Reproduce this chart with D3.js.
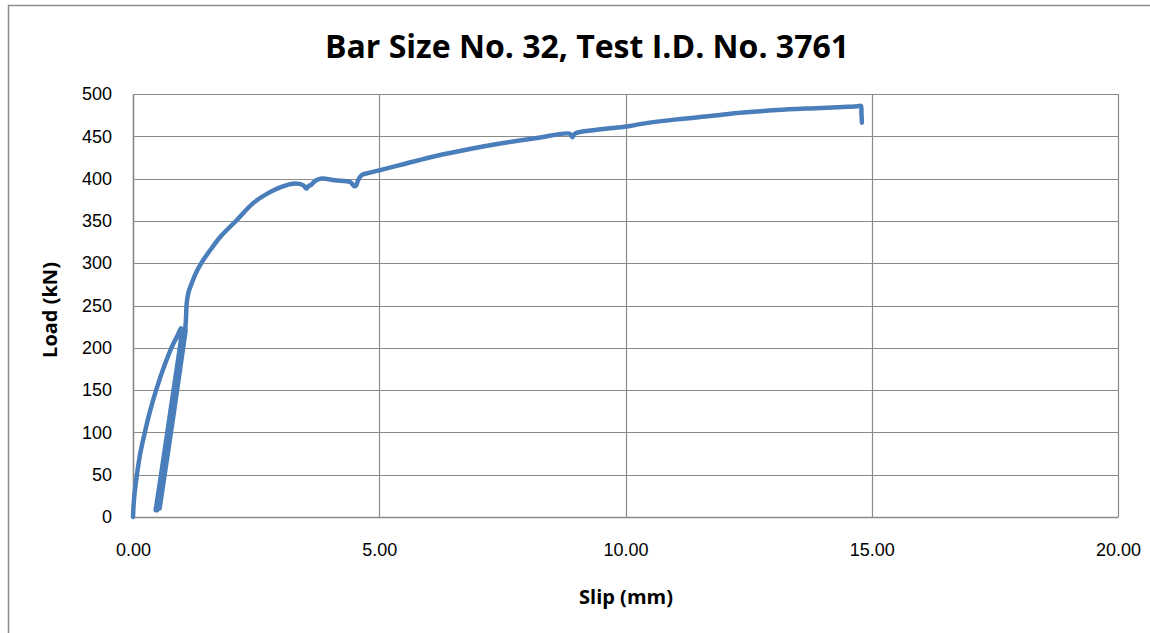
<!DOCTYPE html>
<html>
<head>
<meta charset="utf-8">
<title>Bar Size No. 32, Test I.D. No. 3761</title>
<style>
  body { margin: 0; background: #fff; }
  svg { display: block; font-family: "Open Sans", sans-serif; }
</style>
</head>
<body>
<div id="chart"></div>
<script src="https://d3js.org/d3.v7.min.js"></script>
<script>
// data (slip in mm, load in kN)
var slip = [0, 0.01, 0.03, 0.08, 0.15, 0.24, 0.35, 0.47, 0.62, 0.78, 0.90, 0.98,
  0.46, 1.01, 0.50, 1.04, 0.54, 1.07, 0.49, 1.06,
  1.09, 1.12, 1.19, 1.30, 1.43, 1.60, 1.77, 2.11, 2.44, 2.78, 3.00, 3.25,
  3.46, 3.52, 3.56, 3.60, 3.66, 3.72, 3.83, 4.10, 4.41, 4.49, 4.53, 4.57, 4.64,
  4.81, 4.98, 5.49, 6.17, 6.84, 7.52, 8.20, 8.87, 8.92, 8.97, 9.08, 9.55,
  10.02, 10.36, 11.04, 11.72, 12.39, 13.07, 13.75, 14.42, 14.72, 14.78, 14.79, 14.80];
var load = [0, 12, 27, 50, 76, 100, 126, 150, 176, 200, 214, 223,
  8, 222, 9, 222, 10, 221, 8, 222,
  252, 264, 276, 291, 304, 318, 331, 351, 371, 384, 390, 394,
  392, 388, 391, 392, 395, 398, 400, 398, 396, 391, 392, 398, 404,
  407, 409.5, 417, 427, 435, 442, 448, 453, 449, 453, 455, 458.5,
  461.5, 465, 470, 474, 478, 481, 483, 484.6, 485.5, 486, 478, 466];

var xTicks = [0, 5, 10, 15, 20];
var yTicks = [0, 50, 100, 150, 200, 250, 300, 350, 400, 450, 500];

var W = 1150, H = 633;
var m = { left: 133, top: 94, right: 32, bottom: 116 };
var iw = W - m.left - m.right, ih = H - m.top - m.bottom;

var svg = d3.select("#chart").append("svg")
  .attr("width", W).attr("height", H);

// outer chart border
svg.append("rect")
  .attr("x", 8.5).attr("y", 5.5)
  .attr("width", W + 20).attr("height", H + 20)
  .attr("fill", "none").attr("stroke", "#8c8c8c").attr("stroke-width", 1.5);

var x = d3.scaleLinear().domain([0, 20]).range([0, iw]);
var y = d3.scaleLinear().domain([0, 500]).range([ih, 0]);

var g = svg.append("g").attr("transform", "translate(" + m.left + "," + m.top + ")");

// gridlines
g.selectAll(".hg").data(yTicks).enter().append("line")
  .attr("x1", 0).attr("x2", iw)
  .attr("y1", function(d) { return Math.round(y(d)) + 0.5; })
  .attr("y2", function(d) { return Math.round(y(d)) + 0.5; })
  .attr("stroke", "#8a8a8a").attr("stroke-width", 1.2);
g.selectAll(".vg").data(xTicks).enter().append("line")
  .attr("y1", 0).attr("y2", ih)
  .attr("x1", function(d) { return Math.round(x(d)) + 0.5; })
  .attr("x2", function(d) { return Math.round(x(d)) + 0.5; })
  .attr("stroke", "#8a8a8a").attr("stroke-width", 1.2);

// axes (labels only)
var yAxis = d3.axisLeft(y).tickValues(yTicks).tickSize(0).tickPadding(21);
var xAxis = d3.axisBottom(x).tickValues(xTicks).tickSize(0).tickPadding(26)
  .tickFormat(d3.format(".2f"));

g.append("g").call(yAxis)
  .call(function(a) { a.select(".domain").attr("stroke", "#8a8a8a").attr("stroke-width", 1.5); })
  .selectAll("text").attr("font-size", 18).attr("fill", "#000");
g.append("g").attr("transform", "translate(0," + ih + ")").call(xAxis)
  .call(function(a) { a.select(".domain").attr("stroke", "#8a8a8a").attr("stroke-width", 1.5); })
  .selectAll("text").attr("font-size", 18).attr("fill", "#000");

// series
var pts = slip.map(function(s, i) { return [s, load[i]]; });
var line = d3.line()
  .curve(d3.curveCatmullRom.alpha(0.5))
  .x(function(d) { return x(d[0]); })
  .y(function(d) { return y(d[1]); });

g.append("path")
  .datum(pts)
  .attr("d", line)
  .attr("fill", "none")
  .attr("stroke", "#4a7ebb")
  .attr("stroke-width", 4.5)
  .attr("stroke-linejoin", "round")
  .attr("stroke-linecap", "round");

// titles
svg.append("text")
  .attr("x", 587).attr("y", 58)
  .attr("text-anchor", "middle")
  .attr("font-size", 32).attr("font-weight", "bold")
  .text("Bar Size No. 32, Test I.D. No. 3761");

svg.append("text")
  .attr("x", 626).attr("y", 604)
  .attr("text-anchor", "middle")
  .attr("font-size", 20).attr("font-weight", "bold")
  .text("Slip (mm)");

svg.append("text")
  .attr("transform", "translate(57,310) rotate(-90)")
  .attr("text-anchor", "middle")
  .attr("font-size", 20).attr("font-weight", "bold")
  .text("Load (kN)");
</script>
</body>
</html>
